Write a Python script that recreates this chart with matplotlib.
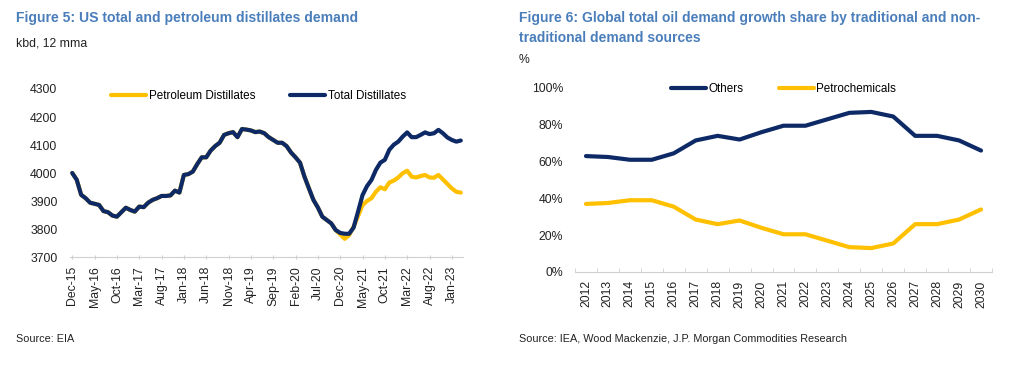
import matplotlib
matplotlib.use("Agg")
import matplotlib.pyplot as plt
import numpy as np
import pandas as pd

plt.rcParams['font.family'] = ['Liberation Sans', 'DejaVu Sans']

# ---------------- Data: Figure 5 ----------------
months = pd.date_range("2015-12-01", periods=88, freq="MS")
total_distillates = [
    4000, 3976, 3922, 3910, 3894, 3890, 3886, 3864, 3860, 3848,
    3844, 3860, 3876, 3868, 3862, 3880, 3878, 3894, 3904, 3910,
    3918, 3918, 3920, 3937, 3930, 3993, 3996, 4005, 4032, 4056,
    4056, 4080, 4096, 4108, 4136, 4142, 4146, 4128, 4157, 4155,
    4152, 4146, 4148, 4142, 4128, 4118, 4108, 4108, 4096, 4073,
    4056, 4037, 3987, 3945, 3904, 3877, 3844, 3832, 3820, 3796,
    3786, 3783, 3783, 3805, 3862, 3921, 3953, 3975, 4011, 4037,
    4047, 4083, 4101, 4112, 4130, 4145, 4128, 4128, 4136, 4145,
    4139, 4142, 4154, 4142, 4127, 4118, 4112, 4116,
]
petroleum_distillates = total_distillates[:60] + [
    3781, 3765, 3778, 3808, 3846, 3885, 3900, 3910, 3933, 3949,
    3942, 3966, 3973, 3984, 3999, 4008, 3987, 3984, 3989, 3993,
    3984, 3983, 3993, 3977, 3961, 3945, 3933, 3930,
]
month_labels = [d.strftime("%b-%y") for d in months]

# ---------------- Data: Figure 6 ----------------
years = [str(y) for y in range(2012, 2031)]
others = [63, 62.5, 61, 61, 64.5, 71.5, 74, 72, 76, 79.5,
          79.5, 83, 86.5, 87, 84.5, 74, 74, 71.5, 66]
petrochemicals = [37, 37.5, 39, 39, 35.5, 28.5, 26, 28, 24, 20.5,
                  20.5, 17, 13.5, 13, 15.5, 26, 26, 28.5, 34]

NAVY = '#0E2A66'
GOLD = '#FFC000'
TITLE = '#4A7EBB'
TXT = '#222222'
AX = '#D0D0D0'

W, H = 1024, 370
fig = plt.figure(figsize=(W / 100, H / 100), dpi=100)

def box(l, t, r, b):
    return [l / W, 1 - b / H, (r - l) / W, (b - t) / H]

# ---------- Left chart ----------
fig.text(16 / W, 1 - 18 / H, "Figure 5: US total and petroleum distillates demand",
         color=TITLE, fontsize=10.1, fontweight='bold', va='center', ha='left')
fig.text(16 / W, 1 - 43 / H, "kbd, 12 mma", color=TXT, fontsize=8.8, va='center', ha='left')
fig.text(16 / W, 1 - 339 / H, "Source: EIA", color=TXT, fontsize=7.8, va='center', ha='left')

ax1 = fig.add_axes(box(70, 89, 463, 257))
x = np.arange(len(months))
ax1.plot(x, petroleum_distillates, color=GOLD, lw=3, label='Petroleum Distillates', solid_capstyle='round')
ax1.plot(x, total_distillates, color=NAVY, lw=3, label='Total Distillates', solid_capstyle='round')
ax1.set_xlim(-0.5, len(months) - 0.5)
ax1.set_ylim(3700, 4300)
ax1.set_yticks(range(3700, 4301, 100))
ax1.set_xticks(x[::5])
ax1.set_xticklabels(month_labels[::5], rotation=90)
for s in ['top', 'right', 'left']:
    ax1.spines[s].set_visible(False)
ax1.spines['bottom'].set_color(AX)
ax1.tick_params(axis='y', length=0, labelsize=8.8, labelcolor=TXT, pad=9)
ax1.tick_params(axis='x', length=3, color=AX, labelsize=8.8, labelcolor=TXT, pad=5, direction='inout')
ax1.legend(loc='upper center', bbox_to_anchor=(0.48, 1.055), ncol=2, frameon=False,
           fontsize=8.4, handlelength=3.0, handletextpad=0.2, columnspacing=3.0)

# ---------- Right chart ----------
fig.text(519 / W, 1 - 18 / H, "Figure 6: Global total oil demand growth share by traditional and non-",
         color=TITLE, fontsize=10.0, fontweight='bold', va='center', ha='left')
fig.text(519 / W, 1 - 38 / H, "traditional demand sources",
         color=TITLE, fontsize=10.0, fontweight='bold', va='center', ha='left')
fig.text(519 / W, 1 - 60 / H, "%", color=TXT, fontsize=8.8, va='center', ha='left')
fig.text(519 / W, 1 - 339 / H, "Source: IEA, Wood Mackenzie, J.P. Morgan Commodities Research",
         color=TXT, fontsize=7.8, va='center', ha='left')

ax2 = fig.add_axes(box(575, 88, 992, 272))
xi = np.arange(len(years))
ax2.plot(xi, others, color=NAVY, lw=3, label='Others', solid_capstyle='round')
ax2.plot(xi, petrochemicals, color=GOLD, lw=3, label='Petrochemicals', solid_capstyle='round')
ax2.set_xlim(-0.5, len(years) - 0.5)
ax2.set_ylim(0, 100)
ax2.set_yticks(range(0, 101, 20))
ax2.set_yticklabels([f"{v}%" for v in range(0, 101, 20)])
ax2.set_xticks(xi)
ax2.set_xticklabels(years, rotation=90)
ax2.set_xticks(np.arange(-0.5, len(years)), minor=True)
for s in ['top', 'right', 'left']:
    ax2.spines[s].set_visible(False)
ax2.spines['bottom'].set_color(AX)
ax2.tick_params(axis='y', length=0, labelsize=8.8, labelcolor=TXT, pad=8.5)
ax2.tick_params(axis='x', which='major', length=0, labelsize=8.8, labelcolor=TXT, pad=6)
ax2.tick_params(axis='x', which='minor', length=3, color=AX, direction='in')
ax2.legend(loc='upper center', bbox_to_anchor=(0.5, 1.085), ncol=2, frameon=False,
           fontsize=8.4, handlelength=3.0, handletextpad=0.2, columnspacing=3.0)

fig.savefig("out.png", dpi=100, facecolor='white')
